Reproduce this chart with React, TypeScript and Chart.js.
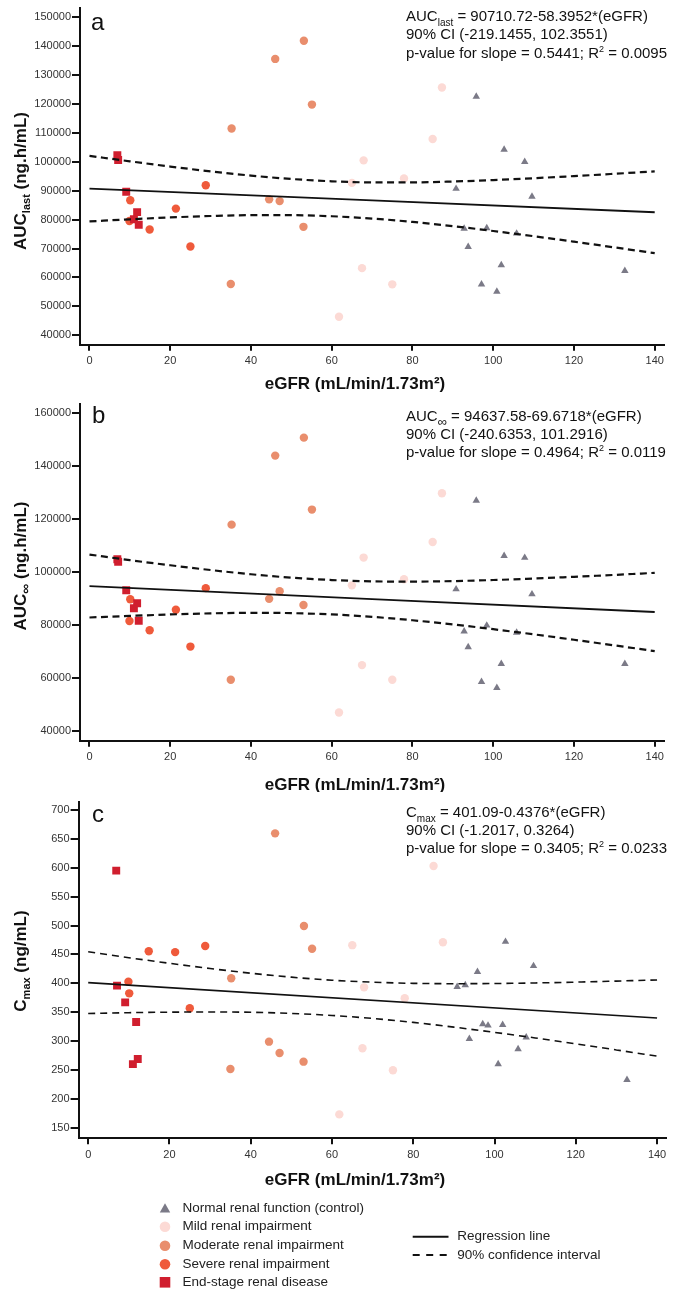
import React, { useEffect, useRef } from "react";
import { Chart, registerables } from "chart.js";

Chart.register(...registerables);

const FONT = "'Liberation Sans', Arial, Helvetica, sans-serif";

// ---------------- data ----------------
const normalEgfr = [90.8, 92.8, 93.8, 95.8, 97.1, 98.4, 100.9, 102.0, 102.7, 105.8, 107.8, 109.6, 132.6];
const normalAucLast = [90700, 76900, 70600, 122600, 57600, 77100, 55100, 64250, 104200, 75200, 100000, 88000, 62300];
const normalAucInf = [93500, 77600, 71600, 127000, 58500, 79800, 56200, 65300, 106100, 77100, 105400, 91600, 65300];
const normalCmax = [394, 397, 304, 420, 329.5, 327, 260, 328, 472, 286, 306.5, 430, 233];

const mildEgfr = [61.8, 65.0, 67.5, 67.9, 75.0, 77.9, 85.0, 87.3];
const mildAucLast = [46400, 92700, 63200, 100500, 57600, 94200, 107900, 125700];
const mildAucInf = [46900, 94950, 64800, 105450, 59250, 97250, 111350, 129750];
const mildCmax = [173, 466, 287.4, 393, 249.3, 374, 603, 471];

const moderateEgfr = [35.0, 35.2, 44.5, 46.0, 47.1, 53.0, 53.1, 55.1];
const moderateAucLast = [57700, 111500, 87000, 135600, 86400, 77500, 141900, 119800];
const moderateAucInf = [59250, 117900, 89850, 144000, 92750, 87500, 150800, 123600];
const moderateCmax = [251.6, 408.6, 298.9, 659.6, 279.3, 264.3, 499.2, 459.9];

const severeEgfr = [9.9, 10.1, 14.9, 21.4, 25.0, 28.8];
const severeAucLast = [79500, 86700, 76600, 83800, 70700, 91900];
const severeAucInf = [81500, 89700, 78000, 85700, 71800, 93900];
const severeCmax = [402.7, 382.6, 455.4, 454.0, 356.7, 464.5];

const esrdEgfr = [6.9, 7.1, 9.1, 11.0, 11.8, 12.2];
const esrdAucLast = [102300, 100600, 89650, 80100, 82600, 78200];
const esrdAucInf = [104800, 103900, 93100, 86300, 88200, 81600];
const esrdCmax = [595, 396, 367, 260, 333, 269];

// regression lines (end points at eGFR 0 and 140)
const regEgfr = [0, 140];
const aucLastReg = [90710.72, 82535.39];
const aucInfReg = [94637.58, 84883.53];
const cmaxReg = [401.09, 339.83];

// 90% confidence band, read every 10 eGFR units
const ciEgfr = [0, 10, 20, 30, 40, 50, 60, 70, 80, 90, 100, 110, 120, 130, 140];
const aucLastCiUpper = [102060, 100160, 98350, 96680, 95220, 94050, 93260, 92880, 92880, 93180, 93680, 94320, 95050, 95850, 96690];
const aucLastCiLower = [79360, 80100, 80740, 81240, 81530, 81530, 81160, 80370, 79200, 77730, 76060, 74260, 72360, 70390, 68380];
const aucInfCiUpper = [106600, 104490, 102540, 100740, 99150, 97860, 96960, 96470, 96360, 96560, 96970, 97520, 98180, 98900, 99680];
const aucInfCiLower = [82800, 83390, 83950, 84360, 84550, 84450, 83960, 83050, 81760, 80180, 78370, 76430, 74380, 72260, 70090];
const cmaxCiUpper = [454.5, 444.3, 434.6, 425.6, 417.4, 410.6, 405.3, 401.9, 399.9, 399.3, 399.6, 400.6, 402.0, 403.8, 405.8];
const cmaxCiLower = [347.7, 349.1, 350.0, 350.4, 349.8, 347.8, 344.3, 339.1, 332.3, 324.1, 315.0, 305.4, 295.2, 284.6, 273.8];

// tick labels
const xTicks = [0, 20, 40, 60, 80, 100, 120, 140];
const aucLastTicks = [40000, 50000, 60000, 70000, 80000, 90000, 100000, 110000, 120000, 130000, 140000, 150000];
const aucInfTicks = [40000, 60000, 80000, 100000, 120000, 140000, 160000];
const cmaxTicks = [150, 200, 250, 300, 350, 400, 450, 500, 550, 600, 650, 700];

const groupLabels = [
  "Normal renal function (control)",
  "Mild renal impairment",
  "Moderate renal impairment",
  "Severe renal impairment",
  "End-stage renal disease",
];
const lineLabels = ["Regression line", "90% confidence interval"];

// ---------------- styles ----------------
const COLORS = {
  normal: "#7b7a87",
  mild: "#fcdad5",
  moderate: "#e98e6d",
  severe: "#ef5a3b",
  esrd: "#d01e2e",
};
const INK = "#111111";

type Seg = { t: string; size: number; bold?: boolean; dy?: number };

function segFont(s: Seg) {
  return `${s.bold ? "bold " : ""}${s.size}px ${FONT}`;
}

function drawRich(ctx: CanvasRenderingContext2D, segs: Seg[], x: number, y: number, align: "left" | "center") {
  let w = 0;
  for (const s of segs) {
    ctx.font = segFont(s);
    w += ctx.measureText(s.t).width;
  }
  let cx = align === "center" ? x - w / 2 : x;
  ctx.textAlign = "left";
  ctx.textBaseline = "alphabetic";
  for (const s of segs) {
    ctx.font = segFont(s);
    ctx.fillText(s.t, cx, y + (s.dy || 0));
    cx += ctx.measureText(s.t).width;
  }
}

function annLines(name: Seg[], eq: string, ci: string, p: string, r2: string): Seg[][] {
  return [
    [...name, { t: eq, size: 15 }],
    [{ t: ci, size: 15 }],
    [{ t: p + "; R", size: 15 }, { t: "2", size: 9, dy: -6 }, { t: " = " + r2, size: 15 }],
  ];
}

interface PanelCfg {
  key: string;
  top: number;
  height: number;
  padTop: number;
  padRight: number;
  padBottom: number;
  yAxisW: number;
  xAxisH: number;
  xMin: number;
  xMax: number;
  yMin: number;
  yMax: number;
  yTicks: number[];
  reg: number[];
  ciUp: number[];
  ciLo: number[];
  normal: number[];
  mild: number[];
  moderate: number[];
  severe: number[];
  esrd: number[];
  dash: number[];
  dashW: number;
  regW: number;
  letter: string;
  letterX: number;
  letterY: number;
  ann: Seg[][];
  annX: number;
  annY: number[];
  xTitleX: number;
  xTitleY: number;
  yTitle: Seg[];
  yTitleX: number;
  yTitleY: number;
  legend?: boolean;
}

const PANELS: PanelCfg[] = [
  {
    key: "a",
    top: 0,
    height: 398,
    padTop: 8.3,
    padRight: 18,
    padBottom: 0,
    yAxisW: 80,
    xAxisH: 53.3,
    xMin: -2.35,
    xMax: 142.3,
    yMin: 36713,
    yMax: 153114,
    yTicks: aucLastTicks,
    reg: aucLastReg,
    ciUp: aucLastCiUpper,
    ciLo: aucLastCiLower,
    normal: normalAucLast,
    mild: mildAucLast,
    moderate: moderateAucLast,
    severe: severeAucLast,
    esrd: esrdAucLast,
    dash: [7, 4.5],
    dashW: 2.2,
    regW: 1.8,
    letter: "a",
    letterX: 91,
    letterY: 30,
    ann: annLines(
      [{ t: "AUC", size: 15 }, { t: "last", size: 10, dy: 5 }],
      " = 90710.72-58.3952*(eGFR)",
      "90% CI (-219.1455, 102.3551)",
      "p-value for slope = 0.5441",
      "0.0095"
    ),
    annX: 406,
    annY: [21, 39.3, 57.6],
    xTitleX: 355,
    xTitleY: 389.3,
    yTitle: [
      { t: "AUC", size: 17, bold: true },
      { t: "last", size: 11, bold: true, dy: 3.5 },
      { t: " (ng.h/mL)", size: 17, bold: true },
    ],
    yTitleX: 26,
    yTitleY: 181,
  },
  {
    key: "b",
    top: 392,
    height: 400,
    padTop: 12,
    padRight: 18,
    padBottom: 0,
    yAxisW: 80,
    xAxisH: 51.3,
    xMin: -2.35,
    xMax: 142.3,
    yMin: 36219,
    yMax: 163516,
    yTicks: aucInfTicks,
    reg: aucInfReg,
    ciUp: aucInfCiUpper,
    ciLo: aucInfCiLower,
    normal: normalAucInf,
    mild: mildAucInf,
    moderate: moderateAucInf,
    severe: severeAucInf,
    esrd: esrdAucInf,
    dash: [7, 4.5],
    dashW: 2.2,
    regW: 1.8,
    letter: "b",
    letterX: 92,
    letterY: 423.3,
    ann: annLines(
      [{ t: "AUC", size: 15 }, { t: "\u221E", size: 13, dy: 5 }],
      " = 94637.58-69.6718*(eGFR)",
      "90% CI (-240.6353, 101.2916)",
      "p-value for slope = 0.4964",
      "0.0119"
    ),
    annX: 406,
    annY: [421, 439.2, 457.3],
    xTitleX: 355,
    xTitleY: 790,
    yTitle: [
      { t: "AUC", size: 17, bold: true },
      { t: "\u221E", size: 14, bold: true, dy: 4 },
      { t: " (ng.h/mL)", size: 17, bold: true },
    ],
    yTitleX: 26,
    yTitleY: 566,
  },
  {
    key: "c",
    top: 790,
    height: 509,
    padTop: 11.7,
    padRight: 16,
    padBottom: 110.7,
    yAxisW: 78.6,
    xAxisH: 50,
    xMin: -2.36,
    xMax: 142.2,
    yMin: 131.6,
    yMax: 714.4,
    yTicks: cmaxTicks,
    reg: cmaxReg,
    ciUp: cmaxCiUpper,
    ciLo: cmaxCiLower,
    normal: normalCmax,
    mild: mildCmax,
    moderate: moderateCmax,
    severe: severeCmax,
    esrd: esrdCmax,
    dash: [7, 5],
    dashW: 1.6,
    regW: 1.6,
    letter: "c",
    letterX: 92,
    letterY: 821.7,
    ann: annLines(
      [{ t: "C", size: 15 }, { t: "max", size: 10, dy: 5 }],
      " = 401.09-0.4376*(eGFR)",
      "90% CI (-1.2017, 0.3264)",
      "p-value for slope = 0.3405",
      "0.0233"
    ),
    annX: 406,
    annY: [816.7, 835, 853.3],
    xTitleX: 355,
    xTitleY: 1185,
    yTitle: [
      { t: "C", size: 17, bold: true },
      { t: "max", size: 11, bold: true, dy: 3.5 },
      { t: " (ng/mL)", size: 17, bold: true },
    ],
    yTitleX: 26,
    yTitleY: 961,
    legend: true,
  },
];

// legend geometry (page coordinates)
const LEGEND = {
  markerX: 165,
  textX: 182.5,
  rows: [1208.3, 1226.7, 1245.7, 1264.3, 1282.3],
  lineX0: 412.7,
  lineX1: 448.5,
  lineRows: [1236.7, 1255],
  lineTextX: 457.2,
};

function drawMarker(ctx: CanvasRenderingContext2D, kind: string, x: number, y: number, color: string) {
  ctx.fillStyle = color;
  ctx.beginPath();
  if (kind === "triangle") {
    ctx.moveTo(x, y - 5);
    ctx.lineTo(x + 5.2, y + 4.3);
    ctx.lineTo(x - 5.2, y + 4.3);
    ctx.closePath();
  } else if (kind === "rect") {
    ctx.rect(x - 5.3, y - 5.3, 10.6, 10.6);
  } else {
    ctx.arc(x, y, 5.3, 0, Math.PI * 2);
  }
  ctx.fill();
}

function drawLegend(ctx: CanvasRenderingContext2D, oy: number) {
  const kinds = ["triangle", "circle", "circle", "circle", "rect"];
  const cols = [COLORS.normal, COLORS.mild, COLORS.moderate, COLORS.severe, COLORS.esrd];
  ctx.save();
  groupLabels.forEach((label, i) => {
    const y = LEGEND.rows[i] - oy;
    drawMarker(ctx, kinds[i], LEGEND.markerX, y, cols[i]);
    ctx.fillStyle = "#222";
    ctx.font = `13.5px ${FONT}`;
    ctx.textAlign = "left";
    ctx.textBaseline = "middle";
    ctx.fillText(label, LEGEND.textX, y);
  });
  lineLabels.forEach((label, i) => {
    const y = LEGEND.lineRows[i] - oy;
    ctx.strokeStyle = INK;
    ctx.lineWidth = 2;
    ctx.setLineDash(i === 0 ? [] : [7, 6.5]);
    ctx.beginPath();
    ctx.moveTo(LEGEND.lineX0, y);
    ctx.lineTo(LEGEND.lineX1, y);
    ctx.stroke();
    ctx.setLineDash([]);
    ctx.fillStyle = "#222";
    ctx.font = `13.5px ${FONT}`;
    ctx.textAlign = "left";
    ctx.textBaseline = "middle";
    ctx.fillText(label, LEGEND.lineTextX, y);
  });
  ctx.restore();
}

function textPlugin(cfg: PanelCfg) {
  return {
    id: "texts_" + cfg.key,
    afterDraw(chart: any) {
      const ctx: CanvasRenderingContext2D = chart.ctx;
      const oy = cfg.top;
      ctx.save();
      ctx.fillStyle = INK;
      ctx.font = `24px ${FONT}`;
      ctx.textAlign = "left";
      ctx.textBaseline = "alphabetic";
      ctx.fillText(cfg.letter, cfg.letterX, cfg.letterY - oy);
      cfg.ann.forEach((segs, i) => drawRich(ctx, segs, cfg.annX, cfg.annY[i] - oy, "left"));
      drawRich(ctx, [{ t: "eGFR (mL/min/1.73m\u00B2)", size: 17, bold: true }], cfg.xTitleX, cfg.xTitleY - oy, "center");
      ctx.translate(cfg.yTitleX, cfg.yTitleY - oy);
      ctx.rotate(-Math.PI / 2);
      drawRich(ctx, cfg.yTitle, 0, 0, "center");
      ctx.restore();
      if (cfg.legend) drawLegend(ctx, oy);
    },
  };
}

function pts(xs: number[], ys: number[]) {
  return xs.map((x, i) => ({ x, y: ys[i] }));
}

function buildConfig(cfg: PanelCfg): any {
  const scatter = (xs: number[], ys: number[], color: string, style: string, r: number) => ({
    data: pts(xs, ys),
    showLine: false,
    pointStyle: style,
    pointRadius: r,
    pointBackgroundColor: color,
    pointBorderWidth: 0,
    pointBorderColor: color,
  });
  const line = (xs: number[], ys: number[], width: number, dash: number[]) => ({
    data: pts(xs, ys),
    showLine: true,
    borderColor: INK,
    borderWidth: width,
    borderDash: dash,
    pointRadius: 0,
    fill: false,
    cubicInterpolationMode: "monotone",
  });
  const tickFont = { family: FONT, size: 11 };
  return {
    type: "scatter",
    data: {
      datasets: [
        line(regEgfr, cfg.reg, cfg.regW, []),
        line(ciEgfr, cfg.ciUp, cfg.dashW, cfg.dash),
        line(ciEgfr, cfg.ciLo, cfg.dashW, cfg.dash),
        scatter(esrdEgfr, cfg.esrd, COLORS.esrd, "rect", 5.6),
        scatter(severeEgfr, cfg.severe, COLORS.severe, "circle", 4.2),
        scatter(moderateEgfr, cfg.moderate, COLORS.moderate, "circle", 4.2),
        scatter(mildEgfr, cfg.mild, COLORS.mild, "circle", 4.2),
        scatter(normalEgfr, cfg.normal, COLORS.normal, "triangle", 4.3),
      ],
    },
    options: {
      animation: false,
      responsive: false,
      maintainAspectRatio: false,
      devicePixelRatio: 1,
      events: [],
      layout: { padding: { left: 0, top: cfg.padTop, right: cfg.padRight, bottom: cfg.padBottom } },
      plugins: { legend: { display: false }, tooltip: { enabled: false }, title: { display: false } },
      scales: {
        x: {
          type: "linear",
          position: "bottom",
          min: cfg.xMin,
          max: cfg.xMax,
          afterBuildTicks: (s: any) => {
            s.ticks = xTicks.map((v) => ({ value: v }));
          },
          afterFit: (s: any) => {
            s.height = cfg.xAxisH;
          },
          grid: {
            display: true,
            drawOnChartArea: false,
            drawTicks: true,
            tickLength: 6,
            tickWidth: 2,
            tickColor: INK,
            color: INK,
            lineWidth: 2,
          },
          border: { display: true, color: INK, width: 2 },
          ticks: {
            padding: 4,
            color: "#333",
            font: tickFont,
            maxRotation: 0,
            autoSkip: false,
            callback: (v: any) => String(v),
          },
        },
        y: {
          type: "linear",
          position: "left",
          min: cfg.yMin,
          max: cfg.yMax,
          afterBuildTicks: (s: any) => {
            s.ticks = cfg.yTicks.map((v) => ({ value: v }));
          },
          afterFit: (s: any) => {
            s.width = cfg.yAxisW;
          },
          grid: {
            display: true,
            drawOnChartArea: false,
            drawTicks: true,
            tickLength: 8,
            tickWidth: 2,
            tickColor: INK,
            color: INK,
            lineWidth: 2,
          },
          border: { display: true, color: INK, width: 2 },
          ticks: {
            padding: 1,
            color: "#333",
            font: tickFont,
            autoSkip: false,
            callback: (v: any) => String(v),
          },
        },
      },
    },
    plugins: [textPlugin(cfg)],
  };
}

function Panel({ cfg }: { cfg: PanelCfg }) {
  const ref = useRef<HTMLCanvasElement | null>(null);
  useEffect(() => {
    if (!ref.current) return;
    const chart = new Chart(ref.current, buildConfig(cfg));
    return () => chart.destroy();
  }, [cfg]);
  return (
    <canvas
      ref={ref}
      width={682}
      height={cfg.height}
      style={{ position: "absolute", left: 0, top: cfg.top, width: 682, height: cfg.height }}
    />
  );
}

export default function App() {
  return (
    <div style={{ position: "relative", width: 682, height: 1299, background: "#fff", overflow: "hidden" }}>
      <style>{`html,body{margin:0;padding:0;background:#fff;}`}</style>
      {PANELS.map((p) => (
        <Panel key={p.key} cfg={p} />
      ))}
    </div>
  );
}
